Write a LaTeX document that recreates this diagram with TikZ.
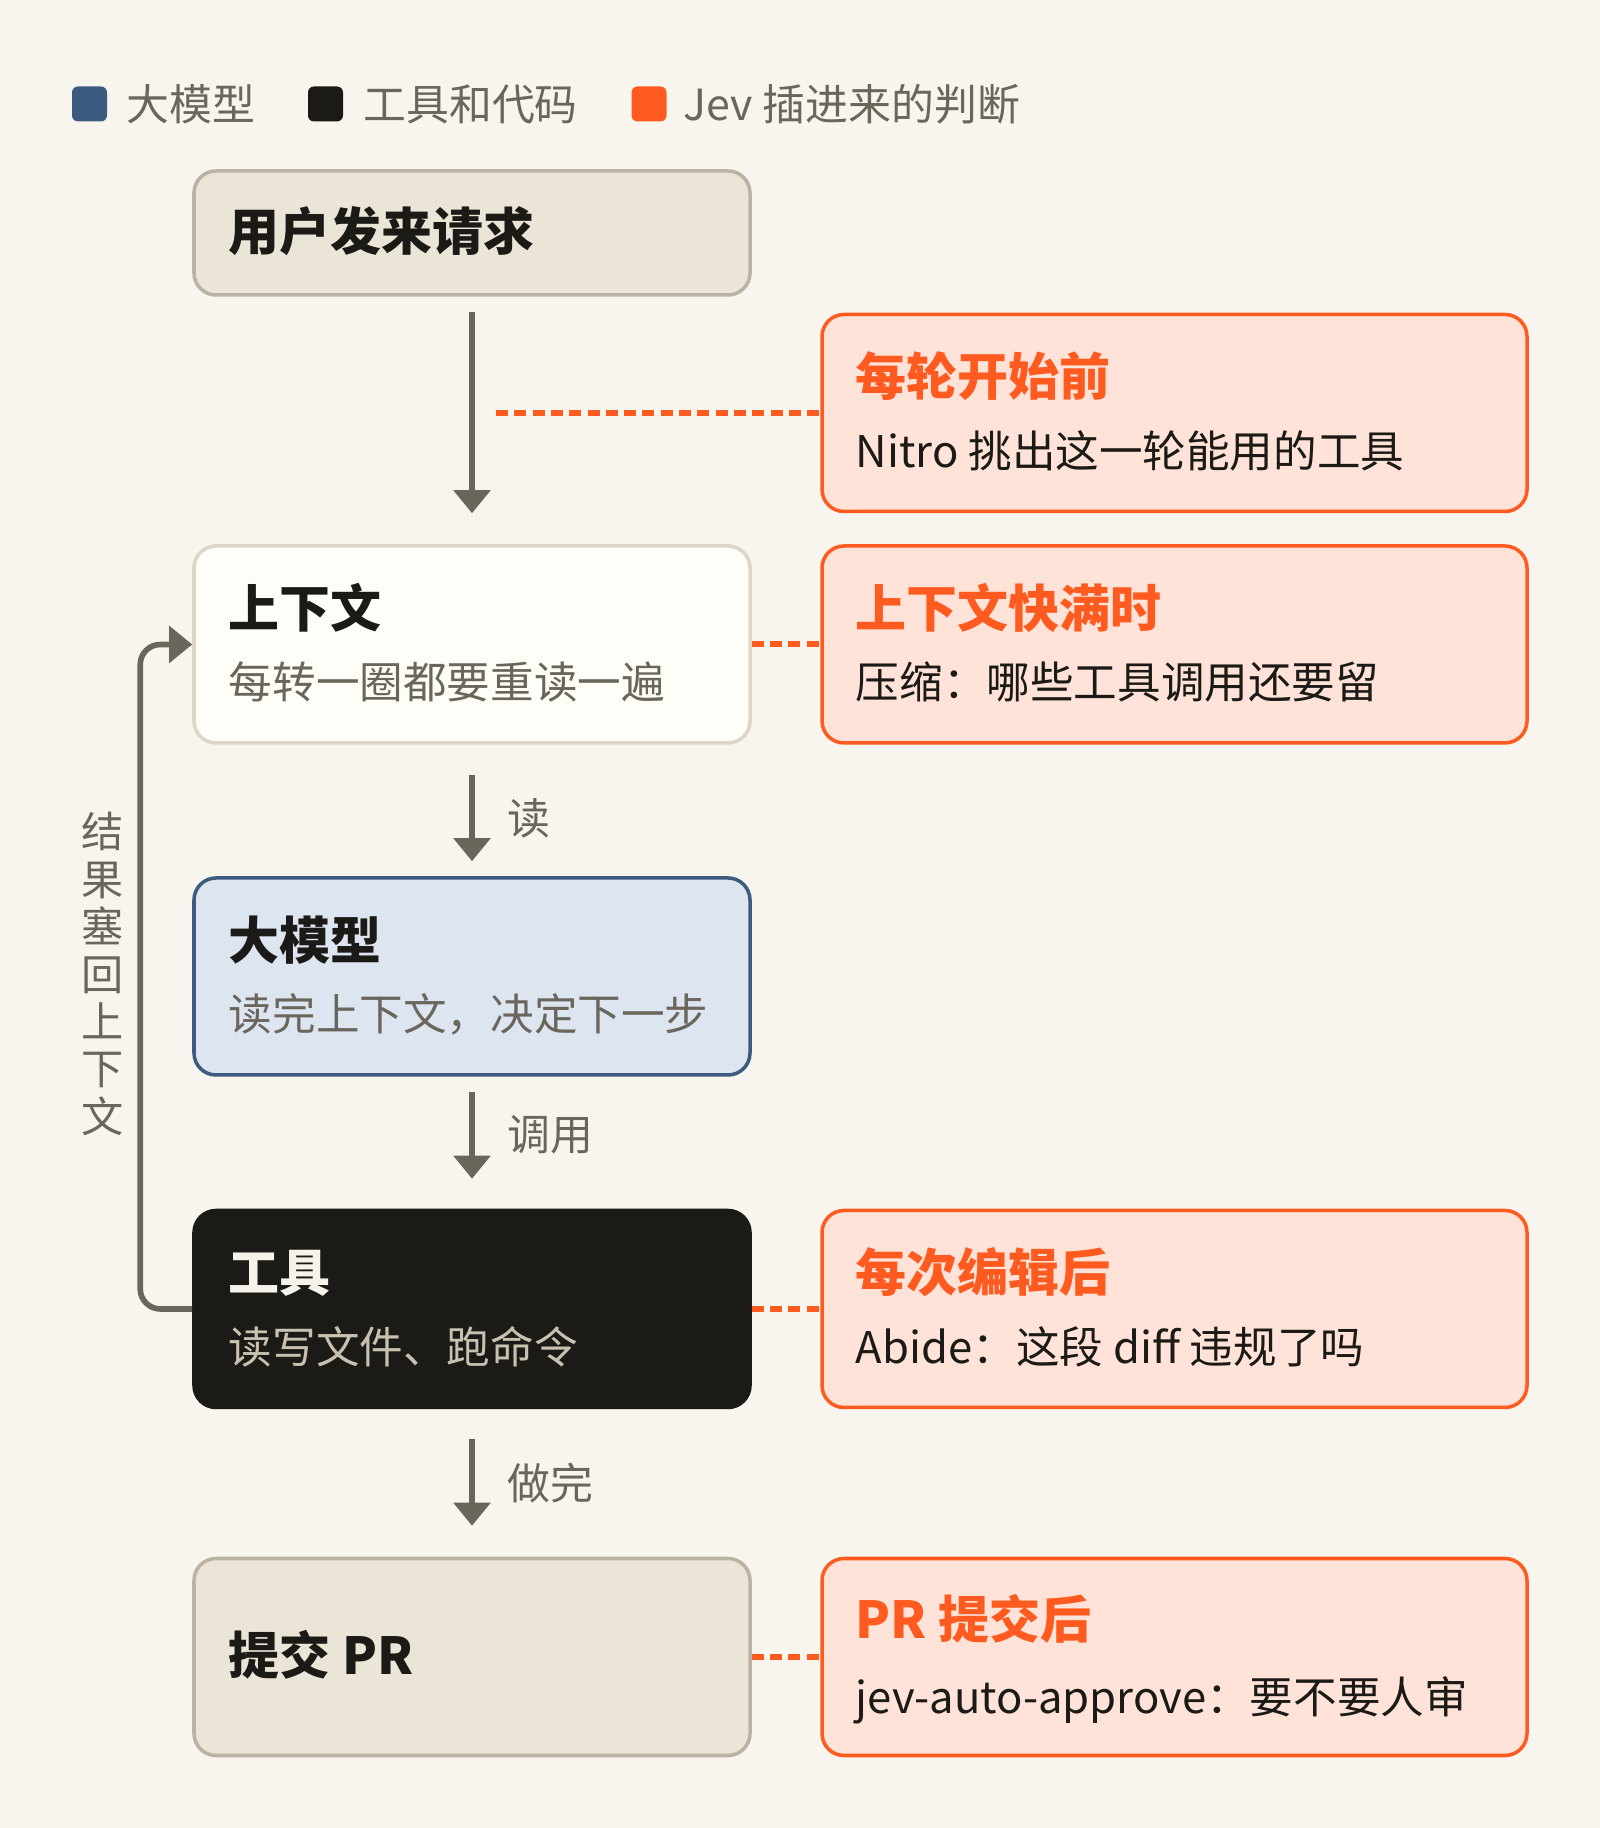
\documentclass[tikz,border=0pt]{standalone}
\usepackage{fontspec}
\setmainfont{Noto Sans CJK SC}
\usepackage{xcolor}
\usetikzlibrary{positioning,arrows.meta}

\definecolor{paper}{HTML}{F7F5EE}
\definecolor{ink}{HTML}{1B1A16}
\definecolor{stone}{HTML}{6B665C}
\definecolor{llmblue}{HTML}{3D5A80}
\definecolor{llmfill}{HTML}{DDE5F1}
\definecolor{jev}{HTML}{FF5A1F}
\definecolor{jevfill}{HTML}{FFE3D8}
\definecolor{sand}{HTML}{EBE5D8}
\definecolor{sandline}{HTML}{BAB2A2}
\definecolor{ctxfill}{HTML}{FEFDF8}
\definecolor{ctxline}{HTML}{DDD6C6}
\definecolor{toolsub}{HTML}{C9C1B0}
\definecolor{toolttl}{HTML}{F6F3EA}

\begin{document}
\begin{tikzpicture}[
    box/.style={draw, rounded corners=0.22cm, line width=1pt, minimum width=5.56cm, minimum height=1.97cm},
    jevbox/.style={box, draw=jev, fill=jevfill, minimum width=7.05cm},
    ttl/.style={anchor=west, inner sep=0, text=ink, font=\fontsize{14.5pt}{17pt}\selectfont\bfseries, text height=11.6pt, text depth=1.45pt},
    sub/.style={anchor=west, inner sep=0, text=stone, font=\fontsize{12.4pt}{15pt}\selectfont, text height=9.9pt, text depth=1.24pt},
    lbl/.style={inner sep=0, text=stone, font=\fontsize{12.2pt}{14pt}\selectfont},
    legsq/.style={rounded corners=0.06cm, minimum size=0.35cm, inner sep=0},
    flow/.style={draw=stone, line width=1.6pt, -{Triangle[width=0.36cm,length=0.23cm]}},
    jevlink/.style={draw=jev, line width=1.7pt, dash pattern=on 0.12cm off 0.063cm}
]
    \fill[paper] (0,0) rectangle (16,18.28);
    \useasboundingbox (0,0) rectangle (16,18.28);

    % legend
    \node[legsq, fill=llmblue] (lgLlm) at (0.895,17.24) {};
    \node[lbl, anchor=west] (lgLlmT) at ([xshift=0.18cm]lgLlm.east) {大模型};
    \node[legsq, fill=ink] (lgTool) at (3.255,17.24) {};
    \node[lbl, anchor=west] (lgToolT) at ([xshift=0.19cm]lgTool.east) {工具和代码};
    \node[legsq, fill=jev] (lgJev) at (6.49,17.24) {};
    \node[lbl, anchor=west] (lgJevT) at ([xshift=0.16cm]lgJev.east) {Jev 插进来的判断};

    % main loop
    \node[box, draw=sandline, fill=sand, minimum height=1.24cm] (req) at (4.72,15.95) {};
    \node[ttl] (reqT) at ([xshift=0.36cm]req.west) {用户发来请求};

    \node[box, draw=ctxline, fill=ctxfill] (ctx) at (4.72,11.835) {};
    \node[ttl] (ctxT) at ([xshift=0.36cm,yshift=0.35cm]ctx.west) {上下文};
    \node[sub] (ctxS) at ([xshift=0.36cm,yshift=-0.39cm]ctx.west) {每转一圈都要重读一遍};

    \node[box, draw=llmblue, fill=llmfill] (llm) at (4.72,8.515) {};
    \node[ttl] (llmT) at ([xshift=0.36cm,yshift=0.35cm]llm.west) {大模型};
    \node[sub] (llmS) at ([xshift=0.36cm,yshift=-0.39cm]llm.west) {读完上下文，决定下一步};

    \node[box, draw=ink, fill=ink] (tool) at (4.72,5.19) {};
    \node[ttl, text=toolttl] (toolT) at ([xshift=0.36cm,yshift=0.35cm]tool.west) {工具};
    \node[sub, text=toolsub] (toolS) at ([xshift=0.36cm,yshift=-0.39cm]tool.west) {读写文件、跑命令};

    \node[box, draw=sandline, fill=sand] (pr) at (4.72,1.71) {};
    \node[ttl] (prT) at ([xshift=0.36cm]pr.west) {提交 PR};

    \draw[flow, shorten <=0.15cm, shorten >=0.31cm] (req) -- (ctx);
    \draw[flow, shorten <=0.30cm, shorten >=0.15cm] (ctx) -- node[lbl, pos=0.563, right=0.33cm] (readL) {读} (llm);
    \draw[flow, shorten <=0.15cm, shorten >=0.30cm] (llm) -- node[lbl, pos=0.437, right=0.33cm] (callL) {调用} (tool);
    \draw[flow, shorten <=0.30cm, shorten >=0.31cm] (tool) -- node[lbl, pos=0.5, right=0.33cm] (doneL) {做完} (pr);

    % result goes back into the context
    \draw[flow, rounded corners=0.2cm] (tool.west) -- ++(-0.52,0) |- (ctx.west);
    \node[lbl, align=center, font=\fontsize{12pt}{13.5pt}\selectfont] (backL) at (1.03,8.54) {结\\果\\塞\\回\\上\\下\\文};

    % Jev hooks
    \node[jevbox] (preH) at (11.745,14.15) {};
    \node[ttl, text=jev] (preT) at ([xshift=0.35cm,yshift=0.35cm]preH.west) {每轮开始前};
    \node[sub, text=ink] (preS) at ([xshift=0.35cm,yshift=-0.39cm]preH.west) {Nitro 挑出这一轮能用的工具};

    \node[jevbox] (fullH) at (11.745,11.835) {};
    \node[ttl, text=jev] (fullT) at ([xshift=0.35cm,yshift=0.35cm]fullH.west) {上下文快满时};
    \node[sub, text=ink] (fullS) at ([xshift=0.35cm,yshift=-0.39cm]fullH.west) {压缩：哪些工具调用还要留};

    \node[jevbox] (editH) at (11.745,5.19) {};
    \node[ttl, text=jev] (editT) at ([xshift=0.35cm,yshift=0.35cm]editH.west) {每次编辑后};
    \node[sub, text=ink] (editS) at ([xshift=0.35cm,yshift=-0.39cm]editH.west) {Abide：这段 diff 违规了吗};

    \node[jevbox] (prH) at (11.745,1.71) {};
    \node[ttl, text=jev] (prHT) at ([xshift=0.35cm,yshift=0.36cm]prH.west) {PR 提交后};
    \node[sub, text=ink] (prHS) at ([xshift=0.35cm,yshift=-0.41cm]prH.west) {jev-auto-approve：要不要人审};

    \coordinate (tap) at (4.96,14.15);
    \draw[jevlink] (tap) -- (preH.west);
    \draw[jevlink] (ctx.east) -- (fullH.west);
    \draw[jevlink] (tool.east) -- (editH.west);
    \draw[jevlink] (pr.east) -- (prH.west);
\end{tikzpicture}
\end{document}
